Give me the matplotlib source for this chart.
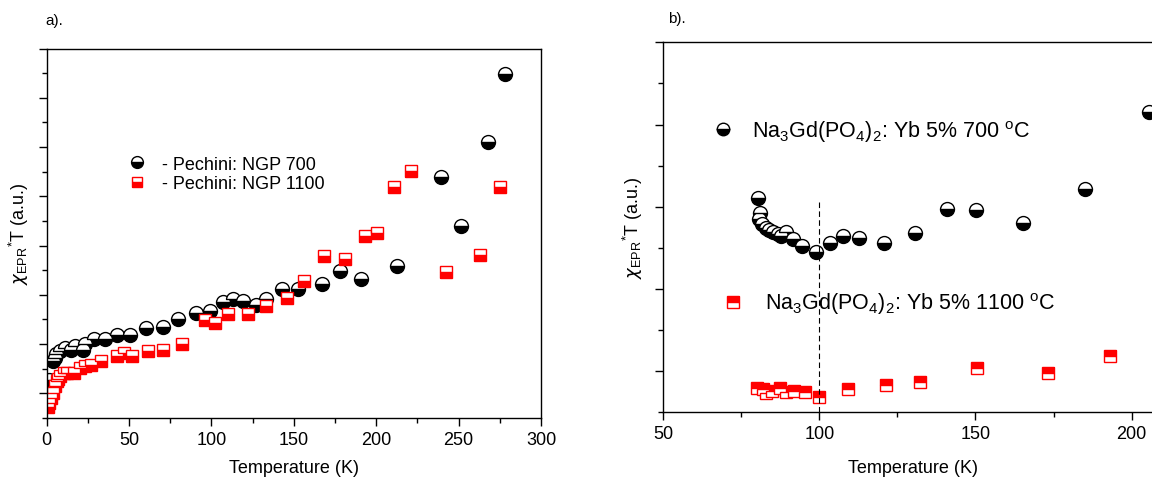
import matplotlib.pyplot as plt
from matplotlib.ticker import MultipleLocator, NullFormatter

plt.rcParams['font.family'] = ['Liberation Sans', 'DejaVu Sans']
plt.rcParams['mathtext.fontset'] = 'dejavusans'

# panel a: Pechini samples, full temperature range
t_700 = [1.7, 3.9, 5.0, 6.0, 8.2, 11.5, 14.8, 17.0, 22.3, 23.4, 28.9, 35.4,
         43.0, 50.5, 60.3, 70.5, 79.8, 90.7, 99.4, 107.0, 113.0, 119.5,
         127.0, 133.0, 143.0, 152.5, 167.0, 178.0, 191.0, 212.8, 239.3,
         251.2, 268.0, 277.9]
chi_700 = [1.56, 2.31, 2.45, 2.58, 2.71, 2.85, 2.78, 2.92, 2.78, 2.99, 3.19,
           3.19, 3.35, 3.35, 3.66, 3.71, 4.00, 4.25, 4.34, 4.71, 4.82, 4.75,
           4.57, 4.85, 5.25, 5.23, 5.43, 5.95, 5.63, 6.18, 9.77, 7.80, 11.2,
           13.95]

t_1100 = [1.0, 1.7, 2.8, 3.9, 5.0, 6.1, 7.0, 8.2, 10.4, 12.6, 16.9, 20.2,
          23.4, 26.7, 32.8, 43.0, 47.3, 52.1, 61.4, 70.5, 82.0, 96.1, 102.2,
          110.2, 122.1, 133.0, 146.0, 156.2, 168.3, 181.3, 193.1, 200.7,
          211.1, 221.3, 242.5, 262.7, 275.1]
chi_1100 = [0.45, 0.61, 0.81, 1.02, 1.29, 1.49, 1.60, 1.70, 1.83, 1.83, 1.83,
            2.04, 2.10, 2.17, 2.31, 2.51, 2.65, 2.51, 2.71, 2.78, 2.99, 3.96,
            3.87, 4.21, 4.21, 4.55, 4.89, 5.57, 6.58, 6.45, 7.37, 7.53, 9.37,
            10.04, 5.93, 6.61, 9.37]

# panel b: Na3Gd(PO4)2:Yb 5%, zoom on 80-200 K
t_700b = [80.3, 80.5, 81.1, 81.6, 82.8, 83.9, 85.0, 86.7, 87.8, 89.3, 91.6,
          94.3, 98.8, 103.4, 107.6, 112.8, 120.8, 130.5, 140.8, 150.1, 165.2,
          185.2, 205.5]
chi_700b = [5.21, 4.71, 4.85, 4.59, 4.48, 4.43, 4.39, 4.34, 4.29, 4.39, 4.21,
            4.05, 3.90, 4.12, 4.28, 4.24, 4.13, 4.36, 4.94, 4.91, 4.60, 5.44,
            7.31]

t_1100b = [79.9, 81.9, 82.8, 84.8, 87.3, 89.3, 91.8, 95.5, 100.0, 109.3,
           121.4, 132.1, 150.5, 173.1, 193.2]
chi_1100b = [0.58, 0.57, 0.46, 0.52, 0.60, 0.50, 0.52, 0.50, 0.38, 0.57,
             0.66, 0.74, 1.07, 0.96, 1.38]

t_transition = 100
transition_top = 5.15

labels_a = ['- Pechini: NGP 700', '- Pechini: NGP 1100']
labels_b = [r'Na$_\mathregular{3}$Gd(PO$_\mathregular{4}$)$_\mathregular{2}$: '
            r'Yb 5% 700 $^\mathregular{o}$C',
            r'Na$_\mathregular{3}$Gd(PO$_\mathregular{4}$)$_\mathregular{2}$: '
            r'Yb 5% 1100 $^\mathregular{o}$C']
ylabel = r'$\chi_\mathregular{EPR}{}^\mathregular{*}$T (a.u.)'

W, H = 1152, 481
fig = plt.figure(figsize=(W / 100, H / 100), dpi=100)
ax_a = fig.add_axes([46.5 / W, 62 / H, 494.5 / W, 369.5 / H])
ax_b = fig.add_axes([663.3 / W, 67.7 / H, 499.5 / W, 370 / H])

circle = dict(marker='o', ls='none', ms=10, mfc='black', mfcalt='white',
              mec='black', mew=1.0, fillstyle='bottom')
square = dict(marker='s', ls='none', ms=9, mfc='#ff0000', mfcalt='white',
              mec='#ff0000', mew=1.0)


def style_axis(ax, labelpad_x, labelpad_y):
    ax.tick_params(which='both', direction='out', top=False, right=False,
                   labelsize=13)
    ax.tick_params(which='major', length=6, width=1)
    ax.tick_params(which='minor', length=3.5, width=1)
    ax.yaxis.set_major_locator(MultipleLocator(2, offset=1))
    ax.yaxis.set_minor_locator(MultipleLocator(2))
    ax.yaxis.set_major_formatter(NullFormatter())
    for sp in ax.spines.values():
        sp.set_linewidth(1.0)
    ax.set_xlabel('Temperature (K)', fontsize=13, labelpad=labelpad_x)
    ax.set_ylabel(ylabel, fontsize=13, labelpad=labelpad_y)


# panel a
h1, = ax_a.plot(t_700, chi_700, **circle)
h2, = ax_a.plot(t_1100, chi_1100, fillstyle='bottom', **square)
ax_a.set_xlim(0, 300)
ax_a.set_ylim(0, 15)
ax_a.xaxis.set_major_locator(MultipleLocator(50))
ax_a.xaxis.set_minor_locator(MultipleLocator(25))
style_axis(ax_a, 8, 2)
ax_a.legend([h1, h2], labels_a, loc='center left',
            bbox_to_anchor=(0.165, 0.66), frameon=False, fontsize=13,
            handlelength=1.0, handletextpad=0.9, labelspacing=0.15,
            borderpad=0, borderaxespad=0, markerscale=0.85)
ax_a.text(-0.003, 1.065, 'a).', transform=ax_a.transAxes, fontsize=11)

# panel b
g1, = ax_b.plot(t_700b, chi_700b, **circle)
g2, = ax_b.plot(t_1100b, chi_1100b, fillstyle='top', **square)
ax_b.vlines(t_transition, 0, transition_top, colors='black',
            linestyles=(0, (5, 3)), lw=0.8)
ax_b.set_xlim(50, 210)
ax_b.set_ylim(0, 9)
ax_b.xaxis.set_major_locator(MultipleLocator(50))
ax_b.xaxis.set_minor_locator(MultipleLocator(25))
style_axis(ax_b, 12, 4)

leg1 = ax_b.legend([g1], labels_b[:1], loc='center left',
                   bbox_to_anchor=(0.1015, 0.76), frameon=False,
                   fontsize=15.5, handlelength=0.8, handletextpad=0.95,
                   borderpad=0, borderaxespad=0, markerscale=0.9)
ax_b.add_artist(leg1)
ax_b.legend([g2], labels_b[1:], loc='center left',
            bbox_to_anchor=(0.1216, 0.295), frameon=False,
            fontsize=15.5, handlelength=0.8, handletextpad=1.1,
            borderpad=0, borderaxespad=0, markerscale=0.9)
ax_b.text(0.01, 1.055, 'b).', transform=ax_b.transAxes, fontsize=11)

fig.savefig('out.png', dpi=100)
